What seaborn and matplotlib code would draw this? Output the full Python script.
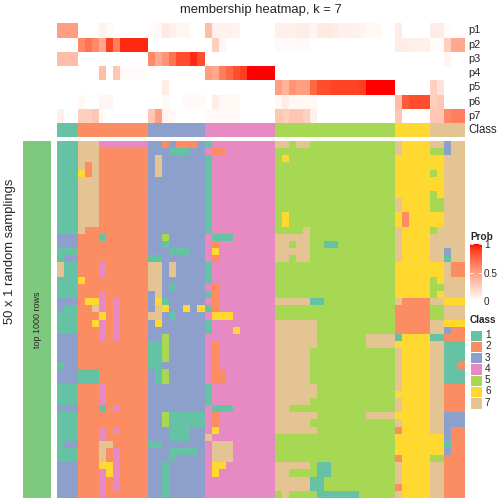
import numpy as np
import matplotlib
matplotlib.use("Agg")
import matplotlib.pyplot as plt
import matplotlib as mpl
from matplotlib.colors import ListedColormap
import seaborn as sns

# class of each sampling (rows) for each sample (columns)
rows = [
    "111 7774444444 33232223 1444444444 77577555555555555 76666 77377",
    "111 7772222222 33311133 4224444444 55555555555555555 76666 55377",
    "111 7772222222 37333333 1444444444 56555555555555555 66666 66777",
    "111 7272222222 37333333 1444444444 55555555555555555 66666 66777",
    "111 6272222222 37333333 1444444444 55555555555555555 66666 56777",
    "111 7772222222 33333333 1444444444 55555555555555555 66666 66777",
    "111 7772222222 33333333 1444444444 55555555555555555 66666 66777",
    "111 7772222222 33333333 1444444444 55555555555555555 66666 56777",
    "111 7772222222 33333333 1444444444 55555555555555555 76666 55777",
    "111 7772222222 33333333 1444444444 55555555555555555 76666 55777",
    "111 7772222222 33333333 1444444444 56555555555555555 62666 66777",
    "111 7772222222 33333333 1444444444 56555555555555555 62666 66777",
    "111 7222222222 33333333 1444444444 55557555555555555 76666 57777",
    "333 2221222222 33533333 4111444444 77777555555555555 76666 77777",
    "333 2222222222 33133333 4244444444 77577551155555555 76666 77777",
    "111 2222222222 33311133 4644444444 77777555555555555 76666 77377",
    "133 2222222222 11333333 4244444444 77577555555555555 76666 77177",
    "711 2224222222 77373333 1444444444 55555555555555555 66666 66722",
    "711 2224222222 77373333 1444444444 55555555555555555 66666 66722",
    "111 6222222222 77333333 1444444444 55555555555555555 66666 56777",
    "111 2222222222 77313333 4244444444 55555555555555555 66666 55777",
    "111 2224222222 37333333 1244444444 55555555555555555 66666 56777",
    "333 2664242222 36133333 4244444444 77777115555555555 72222 77666",
    "311 2274242222 37633636 1244444444 55555555555555555 22222 55777",
    "111 2226242222 77313333 4666444444 55555555555555555 22222 55777",
    "111 2264242222 36333333 1444444444 77777755555555555 22222 77666",
    "111 2224242222 33333333 1444644444 77777755555555555 22222 77322",
    "333 2224242222 33533333 4444444444 77777755555557777 16666 11222",
    "333 2222222222 11533333 4244444444 77777755555557777 66666 77111",
    "333 2222222222 11533333 4244444444 77777555555555555 76666 77111",
    "333 2222222222 11533333 4244444444 77777555555555555 76666 77111",
    "133 2222222222 11333333 4244444444 77777555555555555 76666 77112",
    "333 1112222222 31533333 4224444444 77777555555555555 76666 77111",
    "333 1112222222 31533333 4224444444 77777555555555555 76666 77111",
    "111 2224222222 33333333 1444444444 77777755555555555 76666 77222",
    "111 2224222222 33333333 1444444444 77777755555555555 66666 77222",
    "111 2224222222 33333333 1444444444 77777555555555555 76666 77222",
    "333 2221242222 33333333 4111444444 77555555555555555 76666 77222",
    "111 2222222222 33511111 4244444444 77777755555557777 66666 77333",
    "111 2222222222 33511111 4244444444 77777555555555555 76666 77333",
    "111 2224242222 33311133 4644444444 77777755555555555 26666 77322",
    "111 2224222222 33311133 7444444444 55555555555555555 66666 66322",
    "133 2227722222 11333333 4777444444 55555555555555555 66666 66122",
    "111 2227242222 33311113 4777444444 55555555555555555 66666 66322",
    "111 2227242222 33313333 4777444444 55555555555555555 26666 55222",
    "333 2226642222 33133333 4664444444 77777511555555555 76666 77222",
    "333 2224642222 33133333 4644444444 77555511555555555 76666 77222",
    "333 2224242222 33133333 4444444444 77777115555555555 76666 77222",
    "333 2224242222 33133333 4444444444 77777115555555555 26666 77222",
    "333 2224222222 33133333 4444444444 57555511111155555 76666 77222",
]

# consensus class of each column
class_row = "111 2222222222 33333333 4444444444 55555555555555555 66666 77777"

# membership probabilities (top annotation)
p1 = [0.5, 0.5, 0.5, 0, 0, 0, 0.07, 0.03, 0, 0, 0, 0, 0,
      0.02, 0.04, 0.12, 0.08, 0.05, 0.05, 0, 0,
      0.35, 0.08, 0.07, 0.07, 0.06, 0, 0, 0, 0, 0,
      0.08, 0.08, 0.08, 0.1, 0.1, 0.05, 0.12, 0.12, 0.1, 0.08, 0.08, 0.08,
      0.06, 0.04, 0.04, 0, 0,
      0.1, 0, 0, 0, 0,
      0.1, 0.1, 0.02, 0, 0]
p2 = [0, 0, 0, 0.6, 0.7, 0.6, 0.45, 0.9, 0.65, 0.95, 0.95, 0.95, 0.95,
      0, 0, 0, 0, 0, 0, 0, 0,
      0, 0.25, 0.05, 0, 0, 0, 0, 0, 0, 0,
      0.03, 0.02, 0.02, 0.03, 0.02, 0, 0, 0, 0, 0, 0, 0, 0, 0, 0, 0, 0,
      0.1, 0.1, 0.08, 0.08, 0.08,
      0.02, 0.02, 0.25, 0.45, 0.45]
p3 = [0.35, 0.35, 0.35, 0, 0, 0, 0, 0, 0, 0, 0, 0, 0,
      0.6, 0.45, 0.55, 0.7, 0.85, 0.85, 0.95, 0.85,
      0, 0, 0, 0, 0, 0, 0, 0, 0, 0,
      0, 0, 0, 0, 0, 0, 0, 0, 0, 0, 0, 0, 0, 0, 0, 0, 0,
      0, 0, 0, 0, 0,
      0, 0, 0.05, 0, 0]
p4 = [0, 0, 0, 0, 0, 0, 0.35, 0, 0.3, 0.02, 0.02, 0.02, 0.02,
      0, 0, 0, 0, 0, 0, 0, 0,
      0.5, 0.45, 0.65, 0.75, 0.85, 0.9, 1, 1, 1, 1,
      0, 0, 0, 0, 0, 0, 0, 0, 0, 0, 0, 0, 0, 0, 0, 0, 0,
      0, 0, 0, 0, 0,
      0, 0, 0, 0, 0]
p5 = [0, 0, 0, 0, 0, 0, 0, 0, 0, 0, 0, 0, 0,
      0, 0, 0.1, 0, 0, 0, 0, 0,
      0, 0, 0, 0, 0, 0, 0, 0, 0, 0,
      0.5, 0.4, 0.55, 0.5, 0.5, 0.75, 0.85, 0.85, 0.88, 0.88, 0.88, 0.88,
      0.9, 1, 1, 1, 1,
      0, 0, 0, 0, 0,
      0.25, 0.15, 0, 0, 0]
p6 = [0, 0, 0, 0.04, 0, 0, 0.05, 0.05, 0, 0, 0, 0, 0,
      0, 0, 0.03, 0, 0, 0.03, 0.03, 0.03,
      0, 0.1, 0.04, 0.04, 0.04, 0, 0, 0, 0, 0,
      0.04, 0.1, 0.04, 0.04, 0.04, 0.04, 0, 0, 0, 0, 0, 0, 0, 0, 0, 0, 0,
      0.35, 0.8, 0.85, 0.85, 0.85,
      0.25, 0.3, 0, 0, 0]
p7 = [0.08, 0, 0, 0.25, 0.25, 0.3, 0.04, 0, 0, 0, 0, 0, 0,
      0.3, 0.5, 0.06, 0.04, 0, 0, 0, 0,
      0.02, 0.03, 0.03, 0.03, 0.03, 0, 0, 0, 0, 0,
      0.3, 0.25, 0.3, 0.3, 0.25, 0.08, 0, 0, 0, 0, 0, 0, 0, 0, 0, 0, 0,
      0.3, 0, 0, 0, 0,
      0.3, 0.3, 0.6, 0.65, 0.65]
prob_names = ["p1", "p2", "p3", "p4", "p5", "p6", "p7"]
class_labels = ["1", "2", "3", "4", "5", "6", "7"]


def lab_white_red(n=256):
    """white -> red ramp interpolated in CIE Lab"""
    t = np.linspace(0, 1, n)
    L = 100 - (100 - 53.24) * t
    a = 80.09 * t
    b = 67.20 * t
    fy = (L + 16) / 116
    fx = fy + a / 500
    fz = fy - b / 200

    def finv(v):
        return np.where(v > 6 / 29, v ** 3, 3 * (6 / 29) ** 2 * (v - 4 / 29))
    X = 0.95047 * finv(fx)
    Y = finv(fy)
    Z = 1.08883 * finv(fz)
    r = 3.2406 * X - 1.5372 * Y - 0.4986 * Z
    g = -0.9689 * X + 1.8758 * Y + 0.0415 * Z
    bb = 0.0557 * X - 0.2040 * Y + 1.0570 * Z
    rgb = np.clip(np.stack([r, g, bb], -1), 0, None)
    rgb = np.where(rgb <= 0.0031308, 12.92 * rgb,
                   1.055 * rgb ** (1 / 2.4) - 0.055)
    return ListedColormap(np.clip(rgb, 0, 1))


W = H = 504


def box(x0, y0, x1, y1):
    return [x0 / W, 1 - y1 / H, (x1 - x0) / W, (y1 - y0) / H]


sns.set_style("white")
plt.rcParams["font.family"] = ["Liberation Sans", "DejaVu Sans"]

mat = np.array([[int(ch) for ch in r.replace(" ", "")] for r in rows])
cls = np.array([[int(ch) for ch in class_row.replace(" ", "")]])
probs = np.array([p1, p2, p3, p4, p5, p6, p7])

class_cmap = ListedColormap(sns.color_palette("Set2", 7))
prob_cmap = lab_white_red()

fig = plt.figure(figsize=(7, 7), dpi=72)

fig.text(261 / W, 1 - 10 / H, "membership heatmap, k = 7",
         ha="center", va="center", fontsize=13)

# top annotation: membership probabilities
ax_p = fig.add_axes(box(56.7, 23.3, 465, 123.1))
sns.heatmap(probs, ax=ax_p, cmap=prob_cmap, vmin=0, vmax=1, cbar=False,
            xticklabels=False, yticklabels=False)
for i, name in enumerate(prob_names):
    fig.text(468 / W, 1 - (23.3 + 14.25 * (i + 0.5)) / H, name,
             ha="left", va="center", fontsize=11)

# class annotation
ax_c = fig.add_axes(box(56.7, 123.1, 465, 137.3))
sns.heatmap(cls, ax=ax_c, cmap=class_cmap, vmin=0.5, vmax=7.5, cbar=False,
            xticklabels=False, yticklabels=False)
fig.text(468 / W, 1 - 130.2 / H, "Class", ha="left", va="center",
         fontsize=11.5)

# main body
ax_m = fig.add_axes(box(56.7, 141, 465, 498))
sns.heatmap(mat, ax=ax_m, cmap=class_cmap, vmin=0.5, vmax=7.5, cbar=False,
            xticklabels=False, yticklabels=False)

# left split bar
ax_l = fig.add_axes(box(23, 141, 51, 498))
ax_l.set_facecolor("#7FC97F")
ax_l.set_xticks([])
ax_l.set_yticks([])
for s in ax_l.spines.values():
    s.set_visible(False)
ax_l.text(0.5, 0.5, "top 1000 rows", rotation=90, ha="center", va="center",
          fontsize=9, transform=ax_l.transAxes)
fig.text(10 / W, 1 - 251 / H, "50 x 1 random samplings", rotation=90,
         ha="center", va="center", fontsize=13)

# Prob legend
fig.text(470 / W, 1 - 237 / H, "Prob", ha="left", va="center",
         fontsize=10, fontweight="bold")
cax = fig.add_axes(box(470, 244.5, 482, 301))
cb = mpl.colorbar.ColorbarBase(cax, cmap=prob_cmap,
                               norm=mpl.colors.Normalize(0, 1))
cb.outline.set_visible(False)
cb.set_ticks([0, 0.5, 1])
cb.set_ticklabels(["0", "0.5", "1"])
cax.tick_params(length=0, labelsize=10, pad=2)
for v in [0.5, 1]:
    cax.plot([0, 0.25], [v, v], color="white", lw=0.8)
    cax.plot([0.75, 1], [v, v], color="white", lw=0.8)

# Class legend
fig.text(470 / W, 1 - 320 / H, "Class", ha="left", va="center",
         fontsize=10, fontweight="bold")
ax_lg = fig.add_axes(box(470, 329.5, 482, 408.6))
sns.heatmap(np.arange(1, 8).reshape(-1, 1), ax=ax_lg, cmap=class_cmap,
            vmin=0.5, vmax=7.5, cbar=False, linewidths=0.6, linecolor="white",
            xticklabels=False, yticklabels=False)
for i, lab in enumerate(class_labels):
    fig.text(485 / W, 1 - (335 + 11.3 * i) / H, lab, ha="left",
             va="center", fontsize=10)

fig.savefig("out.png", dpi=72)
